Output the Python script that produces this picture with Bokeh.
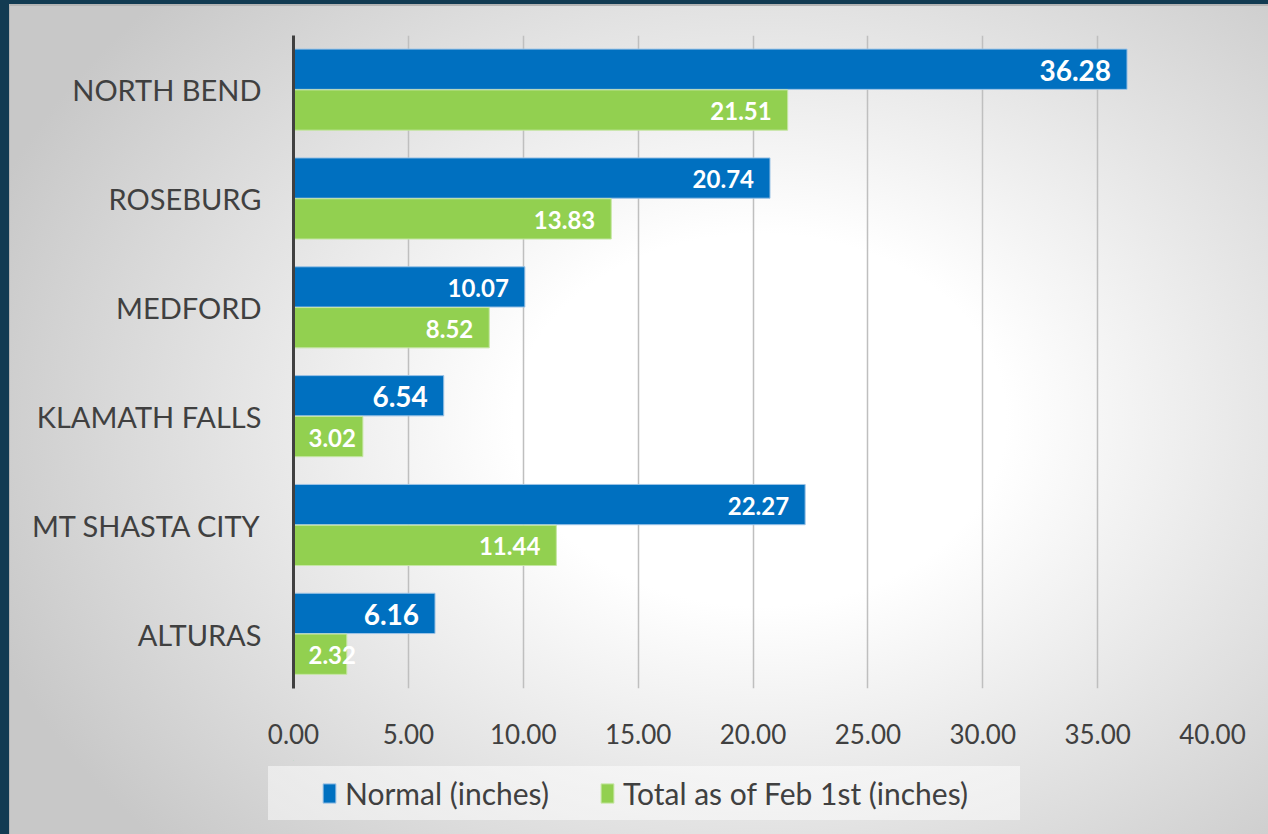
from bokeh.plotting import figure
from bokeh.layouts import column
from bokeh.models import (ColumnDataSource, FactorRange, Legend, LegendItem,
                          NumeralTickFormatter, FixedTicker, Range1d)
from bokeh.transform import dodge
from bokeh.core.properties import value
from bokeh.embed import file_html
from bokeh.resources import INLINE

# ---- data ----
cities = ["NORTH BEND", "ROSEBURG", "MEDFORD", "KLAMATH FALLS", "MT SHASTA CITY", "ALTURAS"]
normal = [36.28, 20.74, 10.07, 6.54, 22.27, 6.16]
total = [21.51, 13.83, 8.52, 3.02, 11.44, 2.32]
x_ticks = [0, 5, 10, 15, 20, 25, 30, 35, 40]
series_names = ["Normal (inches)", "Total as of Feb 1st (inches)"]

# ---- styles ----
BLUE = "#0070C0"
GREEN = "#92D050"
BLUE_EDGE = "#9cc3e6"
GREEN_EDGE = "#c6e6a4"
TXT = "#404040"
FONT = "Lato"
normal_label_size = ["28px", "24px", "24px", "28px", "24px", "28px"]
total_label_size = ["24px"] * 6
total_label_inside = [True, True, True, False, True, False]

p = figure(width=1268, height=760, output_backend="svg", toolbar_location=None,
           y_range=FactorRange(factors=list(reversed(cities)), range_padding=0),
           x_range=Range1d(0, 40),
           min_border_left=293, min_border_right=56, min_border_top=35,
           min_border_bottom=72)
p.background_fill_alpha = 0
p.border_fill_alpha = 0
p.outline_line_color = None

src_n = ColumnDataSource(dict(city=cities, v=normal, lbl=[f"{v:.2f}" for v in normal],
                              size=normal_label_size))
tx = [v if inside else 0 for v, inside in zip(total, total_label_inside)]
src_t = ColumnDataSource(dict(city=cities, v=total, lx=tx, lbl=[f"{v:.2f}" for v in total],
                              size=total_label_size,
                              align=["right" if i else "left" for i in total_label_inside],
                              xo=[-16 if i else 15 for i in total_label_inside]))

p.hbar(y=dodge("city", 0.19, range=p.y_range), right="v", left=0, height=0.37,
       source=src_n, fill_color=BLUE, line_color=BLUE_EDGE, line_width=1)
p.hbar(y=dodge("city", -0.185, range=p.y_range), right="v", left=0, height=0.37,
       source=src_t, fill_color=GREEN, line_color=GREEN_EDGE, line_width=1)

p.text(x="v", y=dodge("city", 0.19, range=p.y_range), text="lbl", source=src_n,
       text_align="right", text_baseline="middle", x_offset=-16, y_offset=1,
       text_color="white", text_font=value(FONT), text_font_style="bold",
       text_font_size="size")
p.text(x="lx", y=dodge("city", -0.185, range=p.y_range), text="lbl", source=src_t,
       text_align="align", text_baseline="middle", x_offset="xo", y_offset=1,
       text_color="white", text_font=value(FONT), text_font_style="bold",
       text_font_size="size")

# axes
p.xaxis.ticker = FixedTicker(ticks=x_ticks)
p.xaxis.formatter = NumeralTickFormatter(format="0.00")
p.xaxis.axis_line_color = None
p.xaxis.major_tick_line_color = None
p.xaxis.minor_tick_line_color = None
p.xaxis.major_label_standoff = 29
p.xaxis.major_label_text_font = FONT
p.xaxis.major_label_text_font_size = "26px"
p.xaxis.major_label_text_color = TXT

p.yaxis.axis_line_color = "#404040"
p.yaxis.axis_line_width = 3
p.yaxis.major_tick_line_color = None
p.yaxis.minor_tick_line_color = None
p.yaxis.major_label_standoff = 26
p.yaxis.major_label_text_font = FONT
p.yaxis.major_label_text_font_size = "29px"
p.yaxis.major_label_text_color = TXT

p.ygrid.grid_line_color = None
p.xgrid.grid_line_color = "#bfbfbf"
p.xgrid.grid_line_width = 1.5

# ---- legend strip (separate panel below the chart; frame aligned with chart frame) ----
lg = figure(width=1268, height=74, output_backend="svg", toolbar_location=None,
            x_range=Range1d(0, 1), y_range=Range1d(0, 1),
            x_axis_location=None, y_axis_location=None,
            min_border=0)
lg.background_fill_alpha = 0
lg.border_fill_alpha = 0
lg.outline_line_color = None
lg.grid.visible = False
# proxy glyphs (kept outside the visible range) only used for the legend swatches
k_n = lg.hbar(y=[5], left=[0], right=[0], height=0.5, fill_color=BLUE, line_color=BLUE_EDGE)
k_t = lg.hbar(y=[5], left=[0], right=[0], height=0.5, fill_color=GREEN, line_color=GREEN_EDGE)
legend = Legend(items=[LegendItem(label=series_names[0], renderers=[k_n]),
                       LegendItem(label=series_names[1], renderers=[k_t])],
                orientation="horizontal", location=(28, 23),
                padding=0, margin=0, spacing=50, label_standoff=8,
                glyph_width=16, glyph_height=24,
                label_text_font=FONT, label_text_font_size="30px",
                label_text_color=TXT,
                background_fill_alpha=0, border_line_alpha=0)
lg.add_layout(legend, "center")

layout = column(p, lg, spacing=0)
layout.styles = {
    "background": (
        "linear-gradient(rgba(255,255,255,0.5), rgba(255,255,255,0.5)) no-repeat 268px 766px / 752px 54px, "
        "radial-gradient(ellipse 820px 620px at 760px 420px, #ffffff 0%, #ffffff 30%, #c8c8c8 100%)"
    ),
    "box-shadow": "inset 9px 4px 0 0 #123b52, inset 10px 6px 0 0 #b4b4b4",
}

open("out.html", "w").write(file_html(layout, INLINE))
